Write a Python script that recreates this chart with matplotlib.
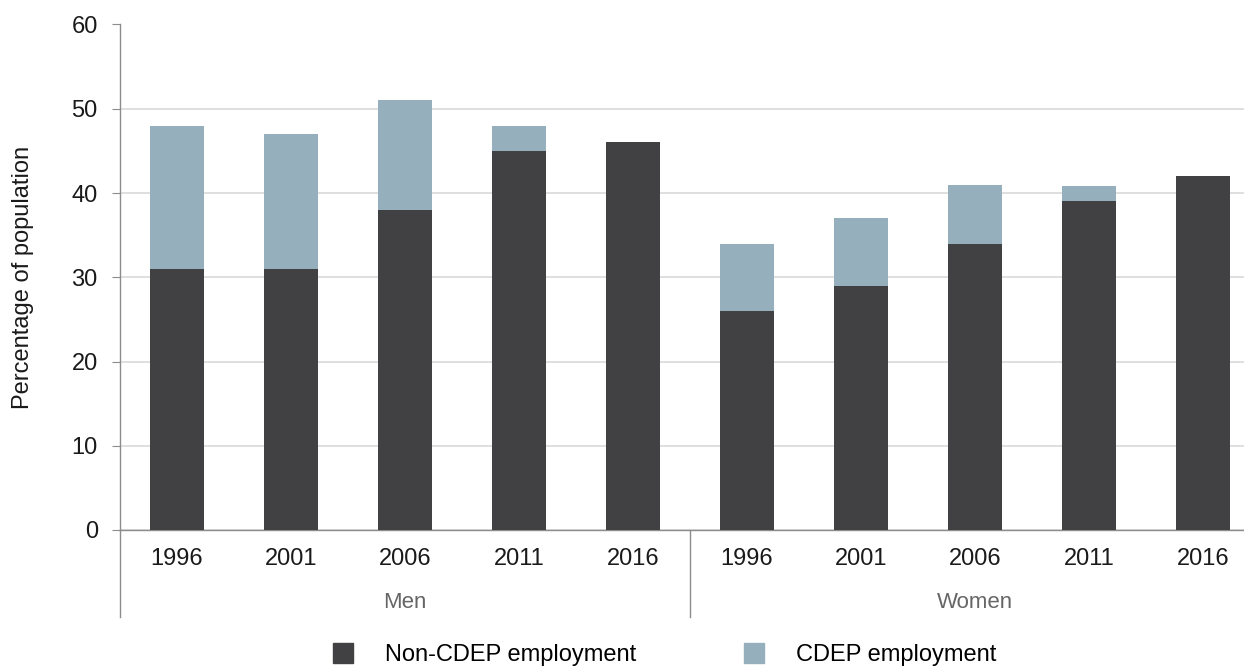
import matplotlib
matplotlib.use("Agg")
import matplotlib.pyplot as plt
import matplotlib.transforms as mtransforms
from matplotlib.lines import Line2D
import numpy as np

plt.rcParams['font.family'] = ['Liberation Sans', 'DejaVu Sans']

groups = ["Men", "Women"]
years = ["1996", "2001", "2006", "2011", "2016"]
non_cdep_men = [31, 31, 38, 45, 46]
cdep_men = [17, 16, 13, 3, 0]
non_cdep_women = [26, 29, 34, 39, 42]
cdep_women = [8, 8, 7, 1.8, 0]

series_labels = ["Non-CDEP employment", "CDEP employment"]
dark = "#414143"
light = "#95afbd"

non_cdep = non_cdep_men + non_cdep_women
cdep = cdep_men + cdep_women
tick_labels = years + years
x = np.arange(len(non_cdep))

W, H = 1244, 668
fig = plt.figure(figsize=(W / 100, H / 100), dpi=100)
ax = fig.add_axes([120 / W, 1 - 530 / H, 1140 / W, (530 - 24.5) / H])

ax.bar(x, non_cdep, width=0.48, color=dark, zorder=3)
ax.bar(x, cdep, width=0.48, bottom=non_cdep, color=light, zorder=3)

ax.set_xlim(-0.5, len(x) - 0.5)
ax.set_ylim(0, 60)
ax.set_yticks(range(0, 61, 10))
ax.yaxis.grid(True, color="#d9d9d9", linewidth=1.2, zorder=0)
ax.set_axisbelow(True)

for s in ["top", "right"]:
    ax.spines[s].set_visible(False)
ax.spines["left"].set_color("#8c8c8c")
ax.spines["bottom"].set_color("#8c8c8c")
ax.spines["left"].set_linewidth(1.0)
ax.spines["bottom"].set_linewidth(1.0)

ax.set_xticks(x)
ax.set_xticklabels(tick_labels, fontsize=17, color="#1a1a1a")
ax.tick_params(axis="x", length=0, pad=13)
ax.tick_params(axis="y", length=6, color="#8c8c8c", labelsize=17, labelcolor="#1a1a1a", pad=10)
ax.set_ylabel("Percentage of population", fontsize=17, color="#1a1a1a", labelpad=27)

trans = mtransforms.blended_transform_factory(ax.transData, ax.transAxes)
ybot = -87 / 505.5
for xs in [-0.5, 4.5]:
    ax.add_line(Line2D([xs, xs], [0, ybot], transform=trans, color="#8c8c8c",
                       linewidth=1.0, clip_on=False))
for i, g in enumerate(groups):
    ax.text(2 + 5 * i, -73 / 505.5, g, transform=trans, ha="center", va="center",
            fontsize=16, color="#666666")

handles = [Line2D([], [], marker="s", linestyle="none", markersize=14.5,
                  markerfacecolor=c, markeredgecolor=c) for c in (dark, light)]
fig.legend(handles, series_labels, loc="center left",
           bbox_to_anchor=(329 / W, 1 - 655 / H), ncol=2, frameon=False,
           fontsize=17, handlelength=1.2, handletextpad=1.19, columnspacing=4.36,
           borderpad=0, borderaxespad=0)

fig.savefig("out.png", dpi=100)
